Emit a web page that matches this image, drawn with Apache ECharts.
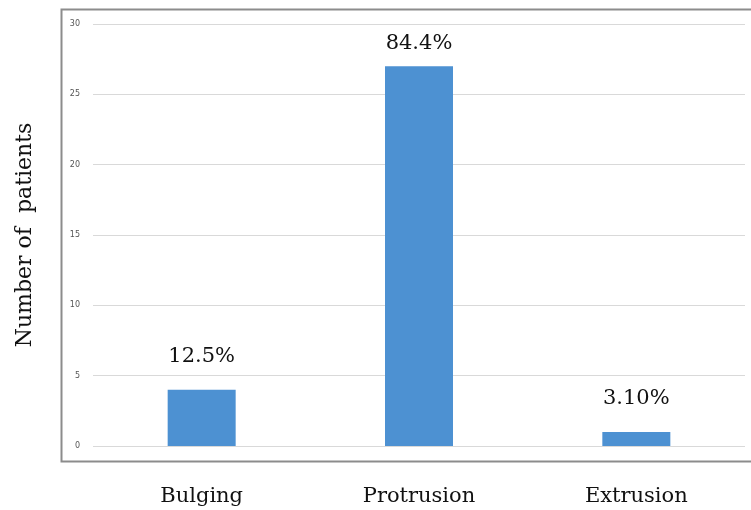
<!DOCTYPE html>
<html>
<head>
<meta charset="utf-8">
<script src="https://cdn.jsdelivr.net/npm/echarts@6/dist/echarts.min.js"></script>
<style>html,body{margin:0;padding:0;background:#fff}#c{width:751px;height:510px}</style>
</head>
<body>
<div id="c"></div>
<script>
var categories = ['Bulging', 'Protrusion', 'Extrusion'];
var patients = [4, 27, 1];
var percentLabels = ['12.5%', '84.4%', '3.10%'];
var yTicks = [0, 5, 10, 15, 20, 25, 30];
var labelOffsets = [-23, -12, -23];

var chart = echarts.init(document.getElementById('c'), null, {renderer: 'canvas'});
chart.setOption({
  animation: false,
  backgroundColor: '#ffffff',
  graphic: [{
    type: 'rect',
    shape: {x: 61.5, y: 9.5, width: 700, height: 452},
    style: {fill: 'none', stroke: '#8c8c8c', lineWidth: 2},
    silent: true,
    z: -1
  }],
  grid: {left: 93, right: 6, top: 24, bottom: 64, containLabel: false},
  xAxis: {
    type: 'category',
    data: categories,
    axisLine: {show: false},
    axisTick: {show: false},
    axisLabel: {
      fontFamily: 'DejaVu Serif',
      fontSize: 21,
      color: '#111',
      margin: 40
    }
  },
  yAxis: {
    type: 'value',
    min: yTicks[0],
    max: yTicks[yTicks.length - 1],
    interval: 5,
    name: 'Number of  patients',
    nameLocation: 'middle',
    nameGap: 57,
    nameRotate: 90,
    nameTextStyle: {fontFamily: 'DejaVu Serif', fontSize: 22, color: '#111'},
    axisLine: {show: false},
    axisTick: {show: false},
    axisLabel: {fontFamily: 'DejaVu Sans', fontSize: 8, color: '#555', margin: 13},
    splitLine: {lineStyle: {color: '#d9d9d9', width: 1}}
  },
  series: [{
    type: 'bar',
    barWidth: 68,
    data: patients.map(function (v, i) {
      return {
        value: v,
        label: {
          show: true,
          position: 'top',
          distance: -labelOffsets[i],
          formatter: percentLabels[i],
          fontFamily: 'DejaVu Serif',
          fontSize: 21,
          color: '#111'
        }
      };
    }),
    itemStyle: {color: '#4d91d2'}
  }]
});
</script>
</body>
</html>
